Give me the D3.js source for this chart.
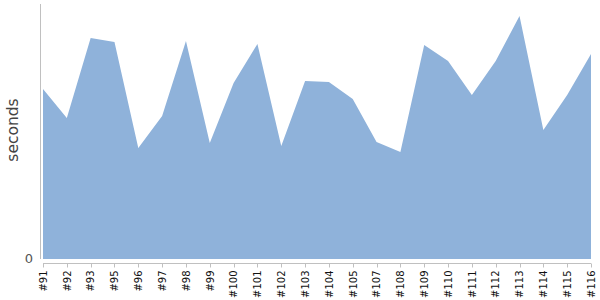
<!DOCTYPE html>
<html><head><meta charset="utf-8">
<script src="https://cdn.jsdelivr.net/npm/d3@7"></script>
<style>body{margin:0;background:#fff}</style>
</head><body><svg id="c" width="600" height="300"></svg>
<script>
const categories = ["#91","#92","#93","#95","#96","#97","#98","#99","#100","#101","#102","#103","#104","#105","#107","#108","#109","#110","#111","#112","#113","#114","#115","#116"];
const seconds = [170,141,221,217,111,143,218,116,176,215,113,178,177,160,117,107,214,198,164,198,243,129,164,205];
const yTicks = [0];

const svg = d3.select("#c");
const x = d3.scalePoint().domain(categories).range([43, 591]);
const y = d3.scaleLinear().domain([0, 255]).range([259, 4]);

const data = categories.map((c,i)=>({c, v: seconds[i]}));
svg.append("path").datum(data)
  .attr("fill", "#8fb2da")
  .attr("d", d3.area().x(d=>x(d.c)).y0(y(0)).y1(d=>y(d.v)));

// y axis
svg.append("line").attr("x1",40.5).attr("x2",40.5).attr("y1",4).attr("y2",259)
  .attr("stroke","#c0c0c0");
svg.selectAll(".yt").data(yTicks).join("text")
  .attr("x",33).attr("y",d=>y(d)+4).attr("text-anchor","end")
  .attr("font-family","DejaVu Sans").attr("font-size",13).attr("fill","#555").text(d=>d);

// x axis
const gx = svg.append("g").attr("transform","translate(0,263.5)");
gx.append("line").attr("x1",43).attr("x2",591).attr("stroke","#c0c0c0");
gx.selectAll(".tk").data(categories).join("line")
  .attr("x1",d=>Math.round(x(d))+0.5).attr("x2",d=>Math.round(x(d))+0.5)
  .attr("y1",0).attr("y2",4).attr("stroke","#c0c0c0");
gx.selectAll(".tl").data(categories).join("text")
  .attr("transform",d=>`translate(${x(d)+3.8},7) rotate(-90)`)
  .attr("text-anchor","end")
  .attr("font-family","DejaVu Sans").attr("font-size",10).attr("fill","#111").text(d=>d);

svg.append("text").attr("transform","translate(18,130) rotate(-90)")
  .attr("text-anchor","middle").attr("font-family","DejaVu Sans").attr("font-size",15.5)
  .attr("fill","#444").text("seconds");
</script></body></html>
